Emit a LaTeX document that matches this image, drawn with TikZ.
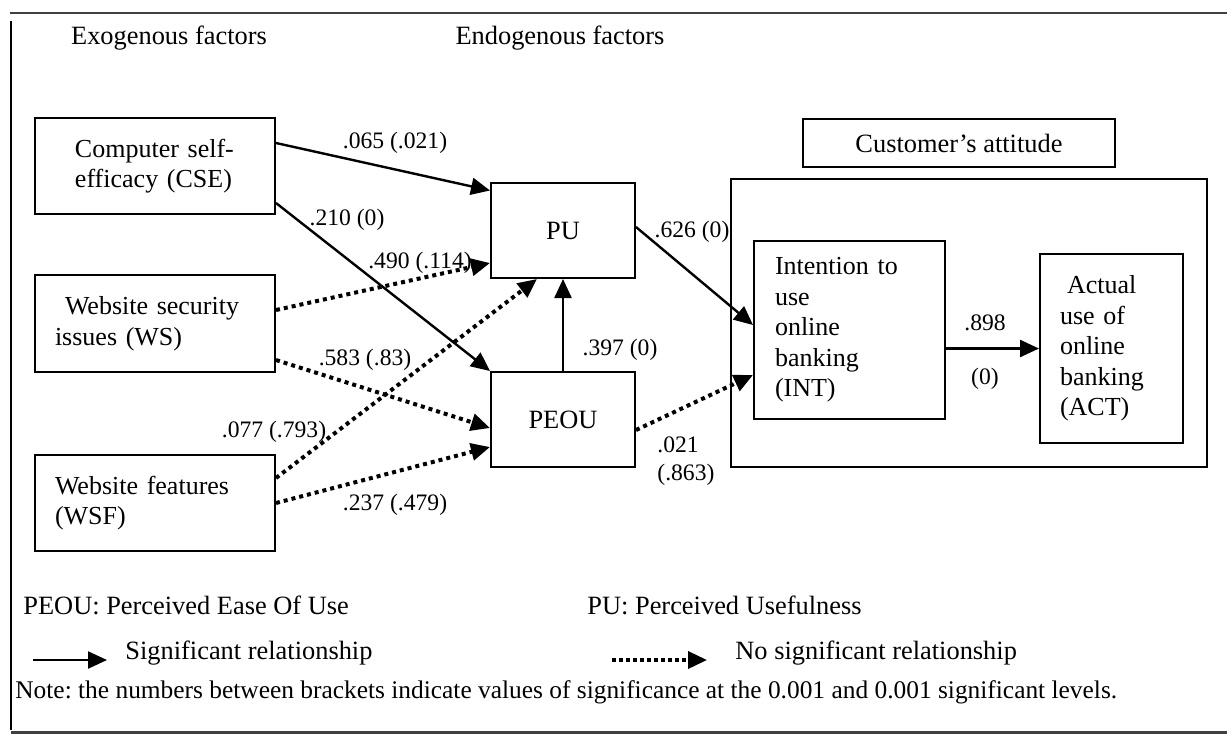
\documentclass[tikz,border=0pt]{standalone}
\usepackage{fontspec}
\setmainfont{Liberation Serif}
\usetikzlibrary{arrows.meta}

\tikzset{
    heading/.style={inner sep=0pt, font=\fontsize{13.2}{15.25}\selectfont},
    factor/.style={draw, line width=1pt, align=left, minimum height=48pt,
        font=\fontsize{13}{15.25}\selectfont},
    construct/.style={draw, line width=1pt, minimum width=72pt, minimum height=47.5pt,
        font=\fontsize{13.2}{15.25}\selectfont},
    coef/.style={inner sep=1pt, font=\fontsize{11.8}{14}\selectfont},
    sig/.style={-{Triangle[length=9.5pt,width=8.5pt]}, line width=1.2pt},
    nonsig/.style={-{Triangle[length=9.5pt,width=8.5pt]}, line width=2pt, dash pattern=on 2pt off 2pt},
}

\begin{document}
\frenchspacing
\begin{tikzpicture}[x=0.5pt, y=-0.5pt]
    \useasboundingbox (0,0) rectangle (1227,736);

    % Frame
    \draw[line width=1pt, black!75] (10,13) -- (1227,13);
    \draw[line width=1.2pt] (11,21) -- (11,730);
    \draw[line width=1.5pt, black!75] (11,732) -- (1227,732);

    % Headings
    \node[heading] (exo) at (169,38) {Exogenous factors};
    \node[heading] (endo) at (560,38) {Endogenous factors};

    % Exogenous factors
    \node[factor, text width=80pt, inner xsep=20pt] (CSE) at (155,166) {Computer self-\\efficacy (CSE)};
    \node[factor, text width=100pt, inner xsep=10pt, minimum height=48.5pt] (WS) at (155,323.5) {\hspace*{5pt}Website security\\issues (WS)};
    \node[factor, text width=100pt, inner xsep=10pt] (WSF) at (155,503) {Website features\\(WSF)};

    % Endogenous factors
    \node[construct] (PU) at (563,230.5) {PU};
    \node[construct] (PEOU) at (563,419.5) {PEOU};

    % Customer's attitude
    \node[draw, line width=1pt, minimum width=156pt, minimum height=24pt, heading] (attlabel) at (959,143) {Customer’s attitude};
    \node[draw, line width=1pt, minimum width=238pt, minimum height=144pt] (attitude) at (969,323) {};
    \node[factor, text width=74.5pt, inner xsep=10.5pt, minimum height=89pt] (INT) at (849.5,330) {Intention to\\use\\online\\banking\\(INT)};
    \node[factor, text width=51.5pt, inner xsep=10pt, minimum height=94.5pt] (ACT) at (1111.5,348.5) {\hspace*{3.5pt}Actual\\use of\\online\\banking\\(ACT)};

    % Paths
    \draw[sig] ([yshift=11.5pt]CSE.east) -- ([yshift=20pt]PU.west);
    \draw[sig] ([yshift=-18.5pt]CSE.east) -- (PEOU.north west);
    \draw[nonsig] ([yshift=6.75pt]WS.east) -- ([yshift=-16.25pt]PU.west);
    \draw[nonsig] ([yshift=-18.25pt]WS.east) -- ([yshift=-4.25pt]PEOU.west);
    \draw[nonsig] ([yshift=12.5pt]WSF.east) -- ([xshift=-13pt]PU.south);
    \draw[nonsig] (WSF.east) -- ([yshift=-13.75pt]PEOU.west);
    \draw[sig] (PEOU.north) -- (PU.south);
    \draw[sig] ([yshift=1.75pt]PU.east) -- ([yshift=2.5pt]INT.west);
    \draw[nonsig] ([yshift=-5.25pt]PEOU.east) -- ([yshift=-22.5pt]INT.west);
    \draw[sig] (INT.east |- ACT.west) -- (ACT.west);

    % Coefficients
    \node[coef] (cCSEPU) at (395,143) {.065 (.021)};
    \node[coef] (cCSEPEOU) at (347,220) {.210 (0)};
    \node[coef] (cWSPU) at (420,263) {.490 (.114)};
    \node[coef] (cWSPEOU) at (365,360) {.583 (.83)};
    \node[coef] (cWSFPU) at (274,432) {.077 (.793)};
    \node[coef] (cWSFPEOU) at (395,505) {.237 (.479)};
    \node[coef] (cPUINT) at (692,232) {.626 (0)};
    \node[coef] (cPEOUPU) at (620,350) {.397 (0)};
    \node[coef, align=left, anchor=north west] (cPEOUINT) at (655,434) {.021\\(.863)};
    \node[coef] (cINTACT) at (985,323) {.898};
    \node[coef] (pINTACT) at (985,379) {(0)};

    % Key
    \node[heading, anchor=west] (keyPEOU) at (23,605) {PEOU: Perceived Ease Of Use};
    \node[heading, anchor=west] (keyPU) at (587,605) {PU: Perceived Usefulness};
    \coordinate (sigA) at (33,660);
    \coordinate (sigB) at (107,660);
    \draw[sig] (sigA) -- (sigB);
    \node[heading, anchor=west] (keySig) at (125,653) {Significant relationship};
    \coordinate (nsA) at (612,660);
    \coordinate (nsB) at (707,660);
    \draw[nonsig, line width=1.75pt, dash pattern=on 1.75pt off 1.75pt] (nsA) -- (nsB);
    \node[heading, anchor=west] (keyNs) at (735,653) {No significant relationship};
    \node[anchor=west, inner sep=0pt, font=\fontsize{12.7}{14}\selectfont] (note) at (15,692)
        {Note: the numbers between brackets indicate values of significance at the 0.001 and 0.001 significant levels.};
\end{tikzpicture}
\end{document}
